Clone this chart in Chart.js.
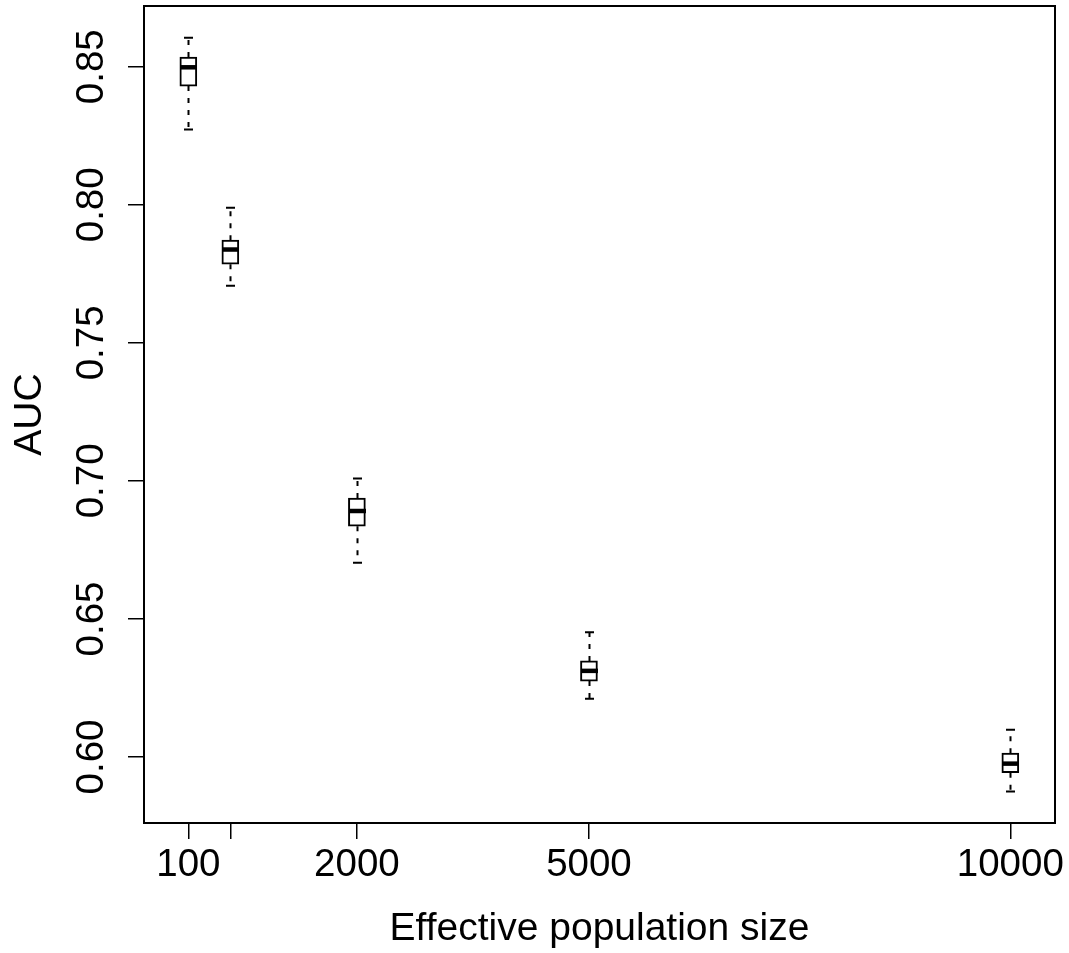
<!DOCTYPE html>
<html>
<head>
<meta charset="utf-8">
<script src="https://cdn.jsdelivr.net/npm/chart.js@4"></script>
<style>
  html, body { margin: 0; padding: 0; background: #fff; }
  #wrap { width: 1069px; height: 953px; }
</style>
</head>
<body>
<div id="wrap"><canvas id="auc"></canvas></div>
<script>
// population sizes and where each box sits on the x axis
const sizeLabels = ['100', '', '2000', '5000', '10000'];
const sizePositions = [100, 606, 2130, 4925, 10000];

// box statistics (AUC)
const whiskerLow = [0.8273, 0.7707, 0.6704, 0.6211, 0.5875];
const q1 = [0.8430, 0.7785, 0.6836, 0.6275, 0.5943];
const median = [0.8498, 0.7838, 0.6891, 0.6312, 0.5976];
const q3 = [0.8535, 0.7872, 0.6938, 0.6348, 0.6014];
const whiskerHigh = [0.8605, 0.7989, 0.7009, 0.6452, 0.6099];

const yTicks = [0.60, 0.65, 0.70, 0.75, 0.80, 0.85];

const FONT = "'Liberation Sans', Arial, Helvetica, sans-serif";

// whiskers, caps, medians, and the full frame (R style box)
const boxplotExtras = {
  id: 'boxplotExtras',
  afterDatasetsDraw(chart) {
    const { ctx, chartArea, scales } = chart;
    const x = scales.x, y = scales.y;
    const boxW = 17, capW = 9;
    ctx.save();
    ctx.strokeStyle = '#000';
    sizePositions.forEach((p, i) => {
      const cx = Math.round(x.getPixelForValue(p)) + 0.5;
      // dashed whiskers
      ctx.lineWidth = 2;
      ctx.setLineDash([5, 7]);
      ctx.beginPath();
      ctx.moveTo(cx, y.getPixelForValue(q3[i]));
      ctx.lineTo(cx, y.getPixelForValue(whiskerHigh[i]));
      ctx.moveTo(cx, y.getPixelForValue(q1[i]));
      ctx.lineTo(cx, y.getPixelForValue(whiskerLow[i]));
      ctx.stroke();
      // caps
      ctx.setLineDash([]);
      ctx.lineWidth = 2;
      ctx.beginPath();
      const yh = y.getPixelForValue(whiskerHigh[i]);
      const yl = y.getPixelForValue(whiskerLow[i]);
      ctx.moveTo(cx - capW / 2, yh);
      ctx.lineTo(cx + capW / 2, yh);
      ctx.moveTo(cx - capW / 2, yl);
      ctx.lineTo(cx + capW / 2, yl);
      ctx.stroke();
      // median
      ctx.lineWidth = 4.5;
      ctx.beginPath();
      const ym = y.getPixelForValue(median[i]);
      ctx.moveTo(cx - boxW / 2, ym);
      ctx.lineTo(cx + boxW / 2, ym);
      ctx.stroke();
    });
    // frame
    ctx.lineWidth = 2;
    ctx.strokeRect(chartArea.left, chartArea.top, chartArea.right - chartArea.left, chartArea.bottom - chartArea.top);
    ctx.restore();
  }
};

new Chart(document.getElementById('auc'), {
  type: 'bar',
  data: {
    datasets: [{
      data: sizePositions.map((p, i) => ({ x: p, y: [q1[i], q3[i]] })),
      backgroundColor: '#fff',
      borderColor: '#000',
      borderWidth: 2,
      borderSkipped: false,
      barThickness: 17
    }]
  },
  options: {
    responsive: true,
    maintainAspectRatio: false,
    animation: false,
    layout: { padding: { top: 6, right: 14, left: 0, bottom: 0 } },
    plugins: { legend: { display: false }, tooltip: { enabled: false } },
    scales: {
      x: {
        type: 'linear',
        offset: false,
        min: -434,
        max: 10538,
        afterBuildTicks: s => { s.ticks = sizePositions.map(v => ({ value: v })); },
        afterFit: s => { s.height = 130; s.paddingLeft = 0; s.paddingRight = 0; },
        grid: { display: true, offset: false, drawOnChartArea: false, drawTicks: true, tickLength: 16, color: '#000', lineWidth: 1.5 },
        border: { display: true, color: '#000', width: 2 },
        ticks: {
          autoSkip: false, maxRotation: 0, minRotation: 0,
          color: '#000', font: { family: FONT, size: 38.5 }, padding: 3,
          callback: (v, i) => sizeLabels[i]
        },
        title: { display: true, text: 'Effective population size', color: '#000', font: { family: FONT, size: 39 }, padding: { top: 5, bottom: 0 } }
      },
      y: {
        min: 0.5761,
        max: 0.8720,
        afterBuildTicks: s => { s.ticks = yTicks.map(v => ({ value: v })); },
        afterFit: s => { s.width = 144; s.paddingTop = 0; s.paddingBottom = 0; },
        grid: { display: true, drawOnChartArea: false, drawTicks: true, tickLength: 16, color: '#000', lineWidth: 1.5 },
        border: { display: true, color: '#000', width: 2 },
        ticks: {
          autoSkip: false, minRotation: 90, maxRotation: 90, crossAlign: 'center',
          color: '#000', font: { family: FONT, size: 38.5 }, padding: -2,
          callback: v => v.toFixed(2)
        },
        title: { display: true, text: 'AUC', color: '#000', font: { family: FONT, size: 39 }, padding: { top: 7, bottom: 0 } }
      }
    }
  },
  plugins: [boxplotExtras]
});
</script>
</body>
</html>
